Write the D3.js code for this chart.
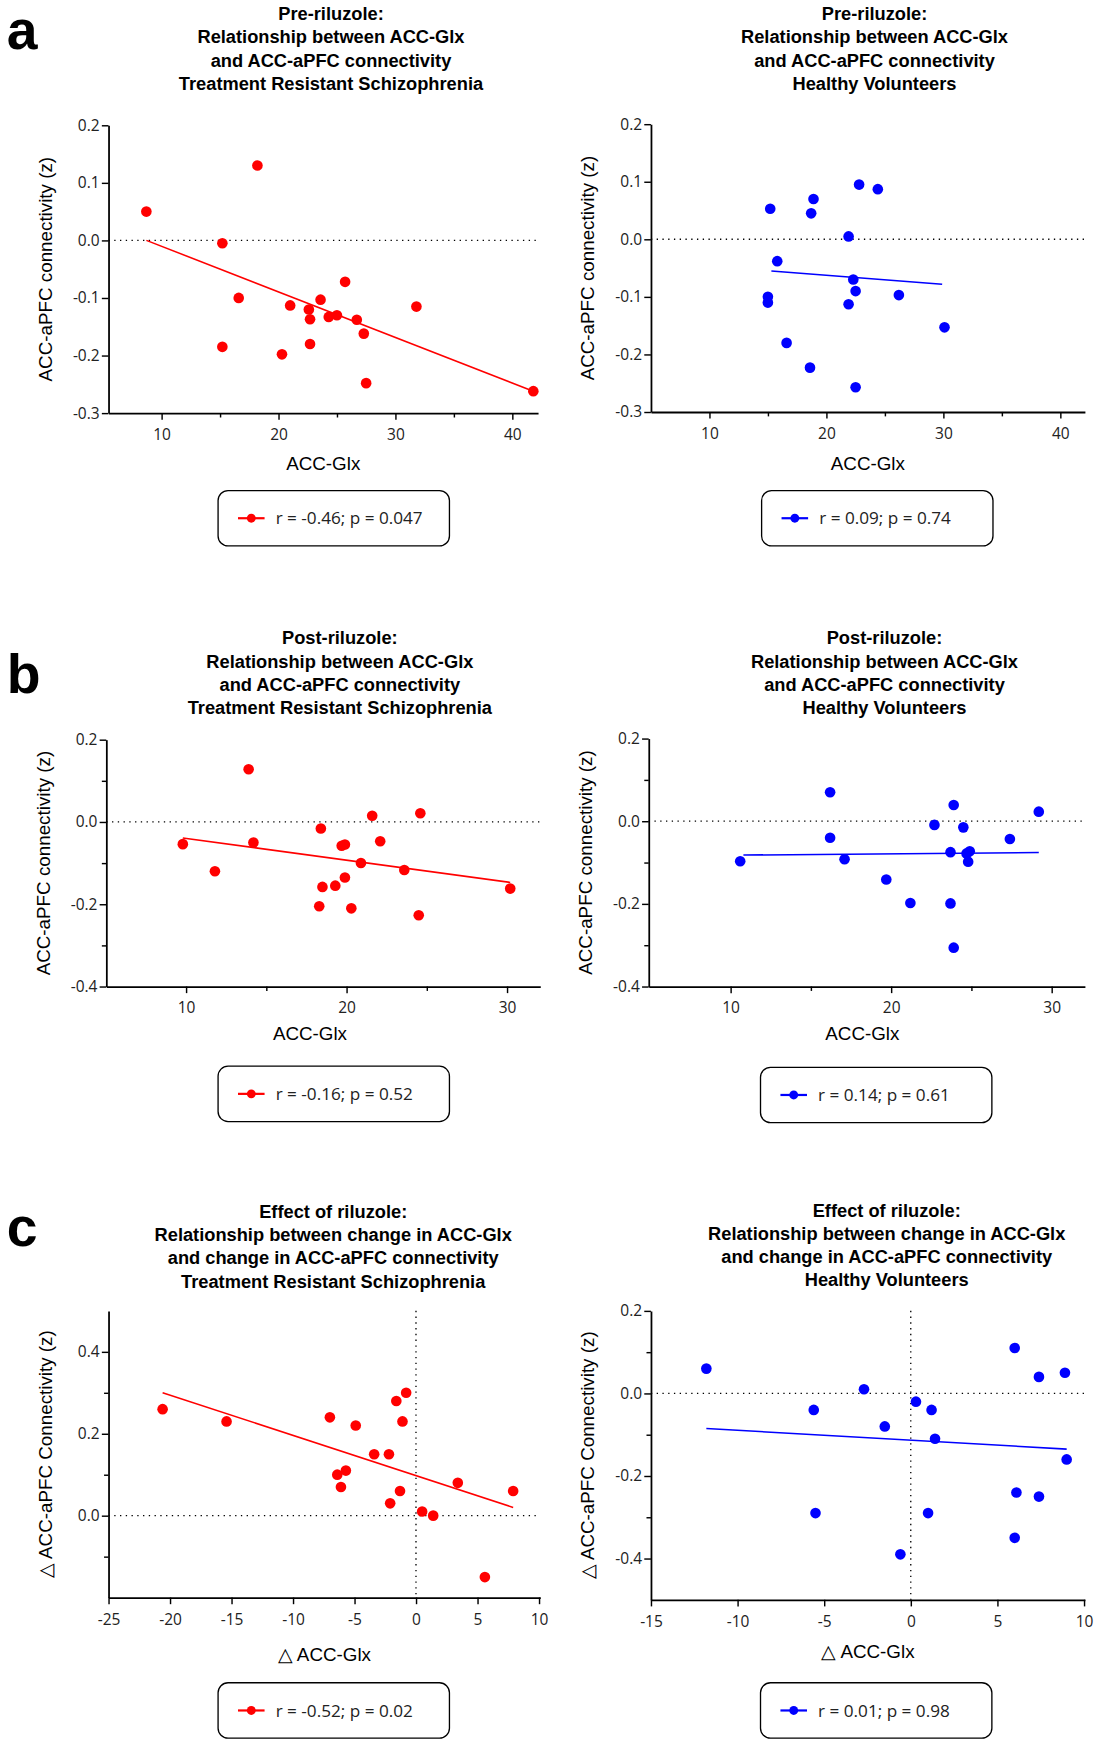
<!DOCTYPE html>
<html>
<head>
<meta charset="utf-8">
<script src="https://cdn.jsdelivr.net/npm/d3@7"></script>
<style>
  body { margin: 0; background: #fff; }
  svg { display: block; }
</style>
</head>
<body>
<svg id="fig" width="1107" height="1756" viewBox="0 0 1000 1586"></svg>
<script>
// ---- data ----
const preTrsX = [8.7, 15.2, 18.2, 16.6, 15.2, 20.3, 21.0, 22.6, 22.7, 22.7, 23.6, 24.3, 25.0, 25.7, 26.7, 27.3, 27.5, 31.8, 41.8];
const preTrsY = [0.05, -0.005, 0.13, -0.10, -0.185, -0.198, -0.113, -0.12, -0.137, -0.18, -0.103, -0.133, -0.13, -0.072, -0.138, -0.162, -0.248, -0.115, -0.262];
const preTrsFit = [[8.7, 0.0], [41.8, -0.262]];

const preHvX = [15.2, 18.9, 18.7, 22.8, 24.4, 21.9, 15.8, 22.3, 22.5, 26.2, 15.0, 15.0, 21.9, 30.1, 16.6, 18.6, 22.5];
const preHvY = [0.053, 0.07, 0.045, 0.095, 0.087, 0.005, -0.038, -0.07, -0.09, -0.097, -0.1, -0.11, -0.113, -0.153, -0.18, -0.223, -0.257];
const preHvFit = [[15.3, -0.055], [29.9, -0.078]];

const postTrsX = [9.8, 11.8, 13.9, 14.2, 18.4, 18.3, 18.5, 19.3, 19.7, 19.9, 19.9, 20.3, 20.9, 21.6, 22.1, 23.6, 24.5, 24.6, 30.2];
const postTrsY = [-0.054, -0.12, 0.128, -0.05, -0.016, -0.205, -0.158, -0.155, -0.058, -0.055, -0.135, -0.21, -0.1, 0.015, -0.047, -0.117, -0.227, 0.021, -0.162];
const postTrsFit = [[9.8, -0.039], [30.2, -0.147]];

const postHvX = [10.6, 16.2, 16.2, 17.1, 19.7, 21.2, 22.7, 23.7, 23.7, 23.9, 23.9, 24.5, 24.7, 24.9, 24.8, 27.4, 29.2];
const postHvY = [-0.097, 0.07, -0.04, -0.092, -0.141, -0.198, -0.009, -0.075, -0.199, 0.039, -0.306, -0.015, -0.078, -0.073, -0.098, -0.043, 0.023];
const postHvFit = [[10.8, -0.082], [29.2, -0.076]];

const effTrsX = [-20.6, -15.4, -7.0, -6.4, -6.1, -5.7, -4.9, -3.4, -2.2, -2.1, -1.6, -1.3, -1.1, -0.8, 0.5, 1.4, 3.4, 5.6, 7.9];
const effTrsY = [0.26, 0.23, 0.24, 0.10, 0.07, 0.11, 0.22, 0.15, 0.15, 0.03, 0.28, 0.06, 0.23, 0.30, 0.01, 0.0, 0.08, -0.15, 0.06];
const effTrsFit = [[-20.6, 0.30], [7.9, 0.02]];

const effHvX = [-11.8, -5.6, -5.5, -2.7, -1.5, -0.6, 0.3, 1.0, 1.2, 1.4, 6.0, 6.1, 6.0, 7.4, 7.4, 8.9, 9.0];
const effHvY = [0.06, -0.04, -0.29, 0.01, -0.08, -0.39, -0.02, -0.29, -0.04, -0.11, 0.11, -0.24, -0.35, 0.04, -0.25, 0.05, -0.16];
const effHvFit = [[-11.8, -0.085], [9.0, -0.135]];

const titlePre = ["Pre-riluzole:", "Relationship between ACC-Glx", "and ACC-aPFC connectivity"];
const titlePost = ["Post-riluzole:", "Relationship between ACC-Glx", "and ACC-aPFC connectivity"];
const titleEff = ["Effect of riluzole:", "Relationship between change in ACC-Glx", "and change in ACC-aPFC connectivity"];
const groupTrs = "Treatment Resistant Schizophrenia";
const groupHv = "Healthy Volunteers";

const RED = "#ff0000", BLUE = "#0000ff";
const svg = d3.select("#fig");
const tickFont = "'Open Sans', 'Liberation Sans', sans-serif";
const titleFont = "'Liberation Sans', Arial, sans-serif";
const hyphen = f => d => f(d).replace("\u2212", "-");

function panel(o) {
  const g = svg.append("g");
  const x = d3.scaleLinear().domain(o.xDom).range([o.left, o.right]);
  const y = d3.scaleLinear().domain(o.yDom).range([o.bottom, o.top]);

  const t = g.append("text")
    .attr("text-anchor", "middle")
    .attr("font-family", titleFont)
    .attr("font-weight", "bold")
    .attr("font-size", 16.5);
  o.title.forEach((line, i) => {
    t.append("tspan").attr("x", o.tx).attr("y", o.ty + i * 21).text(line);
  });

  g.append("line")
    .attr("x1", o.left).attr("x2", o.right)
    .attr("y1", y(0)).attr("y2", y(0))
    .attr("stroke", "#000").attr("stroke-width", 1.2)
    .attr("stroke-dasharray", "1.2,4");
  if (o.vZero) {
    g.append("line")
      .attr("x1", x(0)).attr("x2", x(0))
      .attr("y1", o.top).attr("y2", o.bottom)
      .attr("stroke", "#000").attr("stroke-width", 1.2)
      .attr("stroke-dasharray", "1.2,4");
  }

  const xAxis = g.append("g")
    .attr("transform", `translate(0,${o.bottom})`)
    .call(d3.axisBottom(x).tickValues(o.xTicks).tickSize(6).tickSizeOuter(0).tickFormat(hyphen(d3.format("d"))));
  xAxis.selectAll(".tick").filter(d => o.xMinor.includes(d)).select("text").remove();
  xAxis.selectAll(".tick").filter(d => o.xMinor.includes(d)).select("line").attr("y2", 4);

  const yAxis = g.append("g")
    .attr("transform", `translate(${o.left},0)`)
    .call(d3.axisLeft(y).tickValues(o.yTicks).tickSize(6).tickSizeOuter(0).tickFormat(hyphen(d3.format(".1f"))));
  const isMinor = d => o.yMinor.some(m => Math.abs(m - d) < 1e-9);
  yAxis.selectAll(".tick").filter(isMinor).select("text").remove();
  yAxis.selectAll(".tick").filter(isMinor).select("line").attr("x2", -4);

  [xAxis, yAxis].forEach(a => {
    a.select(".domain").attr("stroke-width", 1.6);
    a.selectAll(".tick line").attr("stroke-width", 1.3);
    a.selectAll("text").attr("font-family", tickFont).attr("font-size", 14).attr("fill", "#222");
  });
  xAxis.selectAll("text").attr("dy", "1.1em");
  yAxis.selectAll("text").attr("x", -8);

  g.append("text")
    .attr("x", (o.left + o.right) / 2 + (o.xlOff || 0)).attr("y", o.xly)
    .attr("text-anchor", "middle")
    .attr("font-family", titleFont).attr("font-size", 17)
    .text(o.xLabel);
  g.append("text")
    .attr("transform", `translate(${o.left - 51},${(o.top + o.bottom) / 2}) rotate(-90)`)
    .attr("text-anchor", "middle")
    .attr("font-family", titleFont).attr("font-size", 17)
    .text(o.yLabel);

  g.append("line")
    .attr("x1", x(o.fit[0][0])).attr("y1", y(o.fit[0][1]))
    .attr("x2", x(o.fit[1][0])).attr("y2", y(o.fit[1][1]))
    .attr("stroke", o.color).attr("stroke-width", 1.4);

  g.selectAll("circle.pt")
    .data(o.xs.map((v, i) => [v, o.ys[i]]))
    .join("circle")
    .attr("class", "pt")
    .attr("cx", d => x(d[0])).attr("cy", d => y(d[1]))
    .attr("r", 4.8).attr("fill", o.color);

  const lg = g.append("g").attr("transform", `translate(${o.lx},${o.ly})`);
  lg.append("rect")
    .attr("width", 209).attr("height", 50).attr("rx", 9)
    .attr("fill", "#fff").attr("stroke", "#000").attr("stroke-width", 1.2);
  lg.append("line").attr("x1", 18).attr("x2", 42).attr("y1", 25).attr("y2", 25)
    .attr("stroke", o.color).attr("stroke-width", 2);
  lg.append("circle").attr("cx", 30).attr("cy", 25).attr("r", 4).attr("fill", o.color);
  lg.append("text").attr("x", 52).attr("y", 30.5)
    .attr("font-family", tickFont).attr("font-size", 15.5).attr("fill", "#222")
    .text(o.legend);
}

[["a", 44], ["b", 626], ["c", 1125]].forEach(([l, yy]) => {
  svg.append("text").attr("x", 6).attr("y", yy)
    .attr("font-family", titleFont).attr("font-weight", "bold").attr("font-size", 50)
    .text(l);
});

const gly = "ACC-Glx", conn = "ACC-aPFC connectivity (z)";
const dConn = "\u25B3  ACC-aPFC Connectivity (z)", dGlx = "\u25B3 ACC-Glx";

panel({ xs: preTrsX, ys: preTrsY, fit: preTrsFit, color: RED,
  left: 98, right: 486, top: 113, bottom: 373, xDom: [5.46, 42.2], yDom: [-0.3, 0.2],
  xTicks: [10, 15, 20, 25, 30, 35, 40], xMinor: [15, 25, 35],
  yTicks: [-0.3, -0.2, -0.1, 0, 0.1, 0.2], yMinor: [],
  title: [...titlePre, groupTrs], tx: 299, ty: 18, xLabel: gly, yLabel: conn, xly: 424,
  lx: 197, ly: 443, legend: "r = -0.46; p = 0.047" });

panel({ xs: preHvX, ys: preHvY, fit: preHvFit, color: BLUE,
  left: 588, right: 980, top: 112, bottom: 372, xDom: [5.0, 42.1], yDom: [-0.3, 0.2],
  xTicks: [10, 15, 20, 25, 30, 35, 40], xMinor: [15, 25, 35],
  yTicks: [-0.3, -0.2, -0.1, 0, 0.1, 0.2], yMinor: [],
  title: [...titlePre, groupHv], tx: 790, ty: 18, xLabel: gly, yLabel: conn, xly: 424,
  lx: 688, ly: 443, legend: "r = 0.09; p = 0.74" });

panel({ xs: postTrsX, ys: postTrsY, fit: postTrsFit, color: RED,
  left: 96, right: 488, top: 668, bottom: 891, xDom: [5.03, 32.07], yDom: [-0.4, 0.2],
  xTicks: [10, 15, 20, 25, 30], xMinor: [15, 25],
  yTicks: [-0.4, -0.3, -0.2, -0.1, 0, 0.1, 0.2], yMinor: [-0.3, -0.1, 0.1],
  title: [...titlePost, groupTrs], tx: 307, ty: 582, xLabel: gly, yLabel: conn, xly: 939, xlOff: -12,
  lx: 197, ly: 963, legend: "r = -0.16; p = 0.52" });

panel({ xs: postHvX, ys: postHvY, fit: postHvFit, color: BLUE,
  left: 586, right: 980, top: 667, bottom: 891, xDom: [4.9, 32.07], yDom: [-0.4, 0.2],
  xTicks: [10, 15, 20, 25, 30], xMinor: [15, 25],
  yTicks: [-0.4, -0.3, -0.2, -0.1, 0, 0.1, 0.2], yMinor: [-0.3, -0.1, 0.1],
  title: [...titlePost, groupHv], tx: 799, ty: 582, xLabel: gly, yLabel: conn, xly: 939, xlOff: -4,
  lx: 687, ly: 964, legend: "r = 0.14; p = 0.61" });

panel({ xs: effTrsX, ys: effTrsY, fit: effTrsFit, color: RED,
  left: 98, right: 488, top: 1184, bottom: 1443, xDom: [-25, 10.1], yDom: [-0.2, 0.5], vZero: true,
  xTicks: [-25, -20, -15, -10, -5, 0, 5, 10], xMinor: [],
  yTicks: [-0.1, 0, 0.1, 0.2, 0.3, 0.4], yMinor: [-0.1, 0.1, 0.3],
  title: [...titleEff, groupTrs], tx: 301, ty: 1100, xLabel: dGlx, yLabel: dConn, xly: 1500,
  lx: 197, ly: 1520, legend: "r = -0.52; p = 0.02" });

panel({ xs: effHvX, ys: effHvY, fit: effHvFit, color: BLUE,
  left: 588, right: 980, top: 1184, bottom: 1445, xDom: [-15, 10.05], yDom: [-0.5, 0.2], vZero: true,
  xTicks: [-15, -10, -5, 0, 5, 10], xMinor: [],
  yTicks: [-0.4, -0.3, -0.2, -0.1, 0, 0.1, 0.2], yMinor: [-0.3, -0.1, 0.1],
  title: [...titleEff, groupHv], tx: 801, ty: 1099, xLabel: dGlx, yLabel: dConn, xly: 1498,
  lx: 687, ly: 1520, legend: "r = 0.01; p = 0.98" });
</script>
</body>
</html>
